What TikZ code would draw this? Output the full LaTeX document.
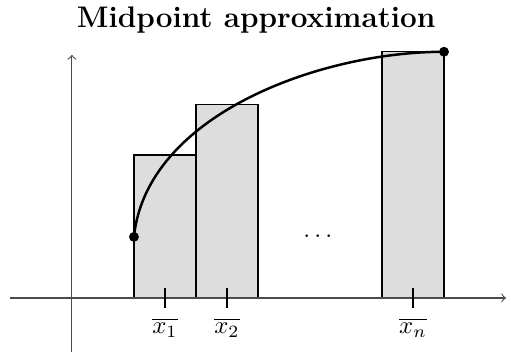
\documentclass[tikz,border=0pt]{standalone}
\usepackage{amsmath,amssymb}
\usetikzlibrary{calc}
\tikzset{
  bar/.style={draw,fill=gray!27,line width=0.5pt},
  axis/.style={->,line width=0.45pt,draw=black!70},
  tick/.style={line width=0.8pt},
  dot/.style={circle,fill,inner sep=0pt,minimum size=4pt}
}

\begin{document}
\begin{tikzpicture}[x=0.44cm,y=0.44cm]
\useasboundingbox (-2.32,-1.87) rectangle (14.16,9.61);
% rectangles at the midpoints
\draw[bar] (2,0) rectangle (4,4.61);
\draw[bar] (4,0) rectangle (6,6.23);
\draw[bar] (10,0) rectangle (12,7.94);
% axes
\draw[axis] (-2,0)--(14,0);
\draw[axis] (0,-1.74)--(0,7.84);
% ticks and labels
\foreach \xm/\lab in {3/1,5/2,11/n}{
  \draw[tick] (\xm,0.32)--(\xm,-0.32);
  \node (lab\lab) at (\xm,-0.95) {$\overline{x_{\lab}}$};
}
\node (dots) at (8,2.0) {$\dots$};
% the function
\coordinate (fa) at (2,1.97); \coordinate (fb) at (12,7.94);
\draw[line width=1pt] (fa) .. controls (2.4,5.9) and (8,7.94) .. (fb);
\node[dot] at (fa) {}; \node[dot] at (fb) {};
\node[font=\large\bfseries] (title) at (5.94,8.95) {Midpoint approximation};
\end{tikzpicture}
\end{document}
